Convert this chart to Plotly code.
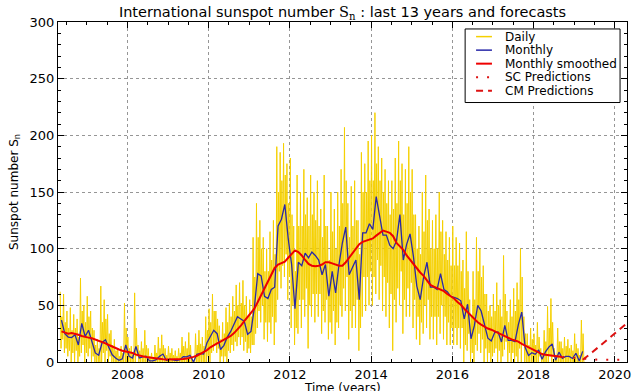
import plotly.graph_objects as go

# ---------------- data ----------------
first_year, first_month = 2006, 5   # first month of the monthly series (May 2006)

monthly = [37, 25, 22, 21.6, 24, 15, 34, 22.5,
           28, 18, 8, 6, 17, 19.6, 13.7, 6.4, 3.5, 1.5, 2.8, 15,
           5, 3.5, 13.7, 3.5, 4.5, 5, 1, 1, 2, 5, 7, 1.3,
           2.5, 2, 1.2, 2, 4.8, 4.5, 5.8, 0, 6.8, 7.5, 7, 17,
           22, 28, 25, 11, 14.7, 22, 27, 33, 40, 38, 36, 24.5,
           27, 48, 78, 76, 58, 56, 64, 66, 120, 126, 139, 109,
           86, 47, 88, 85, 96, 92, 97, 94, 90, 77, 86, 58,
           80, 61, 86, 105, 119, 77, 84, 90, 55, 114, 114, 122,
           117, 146, 129, 112, 112, 103, 100, 107, 130, 90, 104, 113,
           93, 67, 55, 75, 88, 66, 66, 64, 78, 64, 62, 58,
           57, 56, 54, 38, 51, 20.5, 32, 50, 45, 33, 21, 18.5,
           26, 26.5, 17.7, 32.3, 19, 19, 18, 33, 44, 13, 5.7, 8.2,
           6.8, 10.7, 2.5, 8.9, 13.1, 15.9, 1.6, 8.7, 3.3, 4.9, 4.9, 3.1,
           7.7, 0.8, 9.4]

smoothed = [27, 26, 25, 25.5, 25, 24, 23, 22,
            21.5, 21, 20, 19, 18, 16.5, 15, 13.5, 12, 11, 10, 9.5,
            9, 8, 6.5, 5.5, 5, 4.5, 4, 3.5, 3, 2.7, 2.4, 2.2,
            2.2, 2.2, 2.2, 2.3, 2.6, 3, 3.5, 4.5, 5.5, 7, 8.5, 10.5,
            13, 15, 16.5, 18, 19.5, 21, 23, 25.5, 28.5, 32, 36, 40,
            43, 47, 53, 59, 65, 72, 78, 83, 86, 87, 88.5, 92,
            95.5, 98.5, 97, 94, 90, 86.5, 85, 84.5, 85, 86, 88, 88,
            87, 86, 85, 85, 88, 92, 96, 101, 104, 106, 107, 107.5,
            109, 111.5, 114, 116, 115, 114, 111, 105, 102, 99, 94, 90,
            86, 82, 79, 76, 72, 68, 66.5, 65, 64, 62.5, 60, 58,
            56, 53, 50.5, 47, 44, 41, 38, 35, 33, 31, 29.5, 28.5,
            27, 25.5, 24, 23, 21.5, 20, 19, 18, 16, 14.5, 13, 11,
            9.5, 8, 7, 6.4, 6, 5.5, 5, 4.8, 4.5]

# daily values, per month: highest spike, lowest day, second spike, second low
daily_max = [62, 60, 45, 48, 42, 38, 74, 50,
             58, 45, 28, 20, 67, 55, 42, 28, 20, 12, 14, 52,
             22, 14, 61, 15, 18, 28, 12, 8, 15, 22, 24, 12,
             14, 12, 10, 12, 22, 18, 26, 4, 25, 28, 22, 40,
             47, 60, 45, 32, 35, 48, 52, 58, 68, 70, 72, 58,
             55, 110, 140, 125, 110, 100, 115, 125, 190, 185, 193, 175,
             180, 120, 165, 150, 170, 145, 165, 150, 160, 135, 165, 120,
             150, 135, 150, 170, 207, 140, 155, 160, 125, 185, 175, 195,
             200, 220, 190, 180, 170, 160, 160, 180, 195, 175, 170, 190,
             170, 130, 120, 150, 165, 135, 125, 130, 150, 125, 115, 110,
             120, 110, 105, 90, 115, 55, 80, 110, 100, 85, 60, 50,
             60, 70, 55, 94, 45, 55, 65, 70, 100, 40, 25, 30,
             25, 35, 12, 28, 49, 56, 12, 30, 18, 22, 20, 15,
             25, 12, 37]
daily_min = [12, 8, 5, 0, 0, 0, 8, 0,
             5, 0, 0, 0, 0, 0, 0, 0, 0, 0, 0, 0,
             0, 0, 0, 0, 0, 0, 0, 0, 0, 0, 0, 0,
             0, 0, 0, 0, 0, 0, 0, 0, 0, 0, 0, 0,
             0, 10, 8, 0, 0, 0, 8, 10, 14, 15, 10, 8,
             8, 15, 30, 35, 20, 18, 25, 15, 55, 65, 75, 55,
             30, 15, 25, 30, 40, 12, 40, 35, 40, 25, 35, 20,
             25, 15, 30, 40, 45, 20, 30, 30, 10, 40, 45, 50,
             50, 60, 55, 45, 40, 30, 10, 35, 50, 25, 40, 40,
             30, 20, 15, 25, 30, 20, 20, 15, 25, 20, 15, 15,
             15, 15, 12, 0, 10, 0, 0, 10, 8, 0, 0, 0,
             8, 0, 0, 11, 0, 0, 0, 0, 0, 0, 0, 0,
             0, 0, 0, 0, 0, 0, 0, 0, 0, 0, 0, 0,
             0, 0, 0]
daily_peak2 = [40, 35, 30, 28, 30, 22, 45, 35,
               40, 30, 15, 12, 35, 38, 25, 15, 10, 5, 8, 30,
               12, 8, 30, 10, 12, 15, 5, 4, 8, 12, 15, 6,
               8, 6, 5, 8, 14, 12, 15, 0, 15, 16, 14, 28,
               35, 45, 38, 20, 25, 35, 40, 45, 50, 52, 50, 40,
               40, 75, 110, 100, 80, 80, 90, 95, 150, 160, 165, 140,
               130, 80, 120, 120, 130, 120, 130, 125, 120, 110, 120, 90,
               115, 100, 120, 140, 160, 110, 120, 125, 95, 150, 150, 160,
               160, 175, 160, 150, 140, 130, 135, 140, 160, 130, 140, 150,
               130, 100, 95, 115, 125, 100, 100, 100, 115, 95, 90, 85,
               85, 85, 80, 65, 80, 40, 55, 80, 75, 60, 45, 40,
               45, 50, 40, 60, 35, 40, 45, 55, 75, 25, 15, 20,
               15, 22, 8, 18, 30, 35, 6, 18, 12, 14, 12, 10,
               16, 6, 25]
daily_low2 = [20, 12, 10, 8, 10, 5, 15, 8,
              12, 5, 0, 0, 8, 10, 5, 0, 0, 0, 0, 0,
              0, 0, 5, 0, 0, 0, 0, 0, 0, 0, 0, 0,
              0, 0, 0, 0, 0, 0, 0, 0, 0, 0, 0, 5,
              8, 15, 12, 5, 5, 10, 15, 18, 22, 22, 18, 12,
              15, 25, 45, 50, 35, 35, 40, 35, 80, 85, 95, 75,
              50, 30, 55, 55, 65, 50, 60, 60, 60, 45, 55, 35,
              45, 35, 50, 65, 75, 45, 50, 55, 30, 75, 75, 80,
              75, 90, 85, 75, 70, 60, 55, 65, 80, 55, 65, 70,
              55, 40, 35, 50, 55, 40, 40, 40, 50, 40, 35, 30,
              30, 30, 30, 15, 25, 8, 15, 25, 20, 12, 8, 5,
              12, 10, 5, 18, 8, 8, 5, 12, 15, 0, 0, 0,
              0, 5, 0, 0, 5, 5, 0, 0, 0, 0, 0, 0,
              0, 0, 0]

sc_first = (2018, 9)
sc_pred = [4.5, 4.2, 4.0, 3.8, 3.6, 3.5, 3.3, 3.0, 2.7, 2.4, 2.1, 1.9,
           1.8, 1.7, 1.7, 1.7, 1.8, 1.9, 2.0, 2.1]
cm_first = (2019, 3)
cm_pred = [2, 4, 6.5, 9, 11.5, 14, 16.5, 19, 21.5, 24, 26.5, 29, 31.5, 34]

x_ticks = [2008, 2010, 2012, 2014, 2016, 2018, 2020]
y_ticks = [0, 50, 100, 150, 200, 250, 300]

series_names = ["Daily", "Monthly", "Monthly smoothed", "SC Predictions", "CM Predictions"]
series_colors = ["#F5D000", "#2828A8", "#EE0000", "#DD1111", "#DD1111"]
series_widths = [1, 1.3, 2, 2, 2]
series_dash = ["solid", "solid", "solid", "2px,9px", "7px,5px"]


def month_time(y0, m0, i, frac=0.5):
    k = (m0 - 1) + i
    return y0 + (k + frac) / 12.0


t_month = [month_time(first_year, first_month, i) for i in range(len(monthly))]
t_smooth = t_month[:len(smoothed)]
t_daily, v_daily = [], []
for i, vals in enumerate(zip(daily_max, daily_min, daily_peak2, daily_low2)):
    for j, v in enumerate(vals):
        t_daily.append(month_time(first_year, first_month, i, 0.125 + 0.25 * j))
        v_daily.append(v)
t_sc = [month_time(sc_first[0], sc_first[1], i) for i in range(len(sc_pred))]
t_cm = [month_time(cm_first[0], cm_first[1], i) for i in range(len(cm_pred))]

xs = [t_daily, t_month, t_smooth, t_sc, t_cm]
ys = [v_daily, monthly, smoothed, sc_pred, cm_pred]

fig = go.Figure()
for name, x, y, c, w, d in zip(series_names, xs, ys, series_colors, series_widths, series_dash):
    fig.add_trace(go.Scatter(x=x, y=y, mode="lines", name=name, showlegend=False,
                             line=dict(color=c, width=w, dash=d)))

font = "DejaVu Sans, Liberation Sans, sans-serif"
axis_common = dict(showline=True, linecolor="black", linewidth=1, mirror="allticks",
                   ticks="inside", ticklen=6, tickcolor="black", zeroline=False,
                   showgrid=True, gridcolor="rgb(150,150,150)", gridwidth=1, griddash="dot",
                   tickfont=dict(family=font, size=13, color="black"))

fig.update_xaxes(range=[2006.29, 2020.3], tickvals=x_ticks,
                 minor=dict(ticks="inside", dtick=0.5, tick0=2006, ticklen=3,
                            tickcolor="black", showgrid=False),
                 **axis_common)
fig.update_yaxes(range=[0, 300], tickvals=y_ticks,
                 minor=dict(ticks="inside", dtick=10, tick0=0, ticklen=3,
                            tickcolor="black", showgrid=False),
                 title=dict(text="Sunspot number S<sub>n</sub>",
                            font=dict(family=font, size=12, color="black"), standoff=8),
                 **axis_common)

# ---- legend box drawn in paper coordinates (compact like the reference) ----
plot_l, plot_r, plot_t, plot_b = 58, 631, 22, 364
def px(xp):
    return (xp - plot_l) / (plot_r - plot_l)
def py(yp):
    return (plot_b - yp) / (plot_b - plot_t)

shapes = [dict(type="rect", xref="paper", yref="paper",
               x0=px(468), x1=px(624), y0=py(103), y1=py(29),
               line=dict(color="black", width=1), fillcolor="white", layer="above")]
annotations = []
row_y = [36.7, 50.3, 63.9, 77.5, 91.1]
for name, c, w, d, ry in zip(series_names, series_colors, series_widths, series_dash, row_y):
    shapes.append(dict(type="line", xref="paper", yref="paper",
                       x0=px(479), x1=px(495), y0=py(ry), y1=py(ry),
                       line=dict(color=c, width=w if w >= 1.5 else 1.5, dash=d), layer="above"))
    annotations.append(dict(text=name, x=px(506), y=py(ry), xref="paper", yref="paper",
                            xanchor="left", yanchor="middle", showarrow=False,
                            font=dict(family=font, size=12, color="black")))

annotations.append(dict(text="Time (years)", x=0.5, y=-0.075, xref="paper", yref="paper",
                        xanchor="center", yanchor="middle", showarrow=False,
                        font=dict(family=font, size=12, color="black")))

fig.update_layout(
    width=640, height=391,
    margin=dict(l=58, r=9, t=22, b=27),
    paper_bgcolor="white", plot_bgcolor="white",
    title=dict(text="International sunspot number "
                    "<span style='font-family:DejaVu Serif'>S<sub>n</sub></span>"
                    " : last 13 years and forecasts",
               x=0.5, xref="paper", xanchor="center",
               y=1 - 12 / 391, yref="container", yanchor="middle",
               font=dict(family=font, size=14.5, color="black")),
    showlegend=False,
    shapes=shapes,
    annotations=annotations,
)

fig.write_html("out.html", config={"displayModeBar": False},
               post_script="document.body.style.margin='0';")
